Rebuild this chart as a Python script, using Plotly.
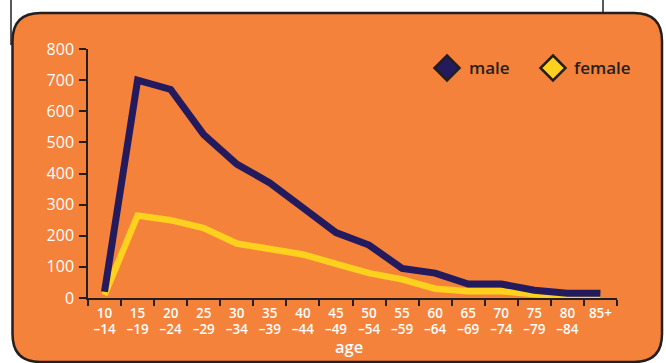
import plotly.graph_objects as go

# Age groups and counts per sex
age_groups = ["10-14", "15-19", "20-24", "25-29", "30-34", "35-39", "40-44", "45-49",
              "50-54", "55-59", "60-64", "65-69", "70-74", "75-79", "80-84", "85+"]
tick_top = ["10", "15", "20", "25", "30", "35", "40", "45",
            "50", "55", "60", "65", "70", "75", "80", "85+"]
tick_bottom = ["–14", "–19", "–24", "–29", "–34", "–39", "–44", "–49",
               "–54", "–59", "–64", "–69", "–74", "–79", "–84", ""]
male = [20, 700, 670, 525, 430, 370, 290, 210, 170, 95, 80, 45, 45, 25, 15, 15]
female = [10, 265, 250, 225, 175, 160, 140, 110, 80, 60, 30, 22, 22, 12, 5, 3]
y_ticks = [0, 100, 200, 300, 400, 500, 600, 700, 800]

ORANGE = "#F5823A"
NAVY = "#241A5E"
YELLOW = "#FFD01E"
DARK = "#231F20"
FONT = "Open Sans"

W, H = 666, 363
L, R, T, B = 88, 49, 49, 65
PW, PH = W - L - R, H - T - B


def px(x):
    return (x - L) / PW


def py(y):
    return (H - B - y) / PH


def rounded_rect(x0, y0, x1, y1, r):
    return (
        f"M {px(x0 + r)} {py(y0)} L {px(x1 - r)} {py(y0)} "
        f"Q {px(x1)} {py(y0)} {px(x1)} {py(y0 + r)} "
        f"L {px(x1)} {py(y1 - r)} Q {px(x1)} {py(y1)} {px(x1 - r)} {py(y1)} "
        f"L {px(x0 + r)} {py(y1)} Q {px(x0)} {py(y1)} {px(x0)} {py(y1 - r)} "
        f"L {px(x0)} {py(y0 + r)} Q {px(x0)} {py(y0)} {px(x0 + r)} {py(y0)} Z"
    )


def diamond(cx, cy, h):
    return (f"M {px(cx)} {py(cy - h)} L {px(cx + h)} {py(cy)} "
            f"L {px(cx)} {py(cy + h)} L {px(cx - h)} {py(cy)} Z")


# two-row tick labels: small base font keeps the rows tight, larger glyphs inside
def tick_label(top, bottom):
    span = "<span style='font-size:13.5px'>{}</span>"
    rows = [span.format(top)]
    if bottom:
        rows.append(span.format(bottom))
    return "<br>".join(rows)


age_tick_text = [tick_label(a, b) for a, b in zip(tick_top, tick_bottom)]

fig = go.Figure()
fig.add_trace(go.Scatter(x=age_groups, y=female, mode="lines", name="female",
                         line=dict(color=YELLOW, width=6.5), hoverinfo="x+y"))
fig.add_trace(go.Scatter(x=age_groups, y=male, mode="lines", name="male",
                         line=dict(color=NAVY, width=7), hoverinfo="x+y"))

shapes = [
    # frame lines of the box above
    dict(type="line", xref="paper", yref="paper", x0=px(11), x1=px(11), y0=py(0), y1=py(45),
         line=dict(color=DARK, width=1.5)),
    dict(type="line", xref="paper", yref="paper", x0=px(603), x1=px(603), y0=py(0), y1=py(14),
         line=dict(color=DARK, width=1.5)),
    # orange panel
    dict(type="path", xref="paper", yref="paper", layer="below",
         path=rounded_rect(12.5, 13, 662, 362, 28),
         fillcolor=ORANGE, line=dict(color=DARK, width=2.5)),
    # legend keys
    dict(type="path", xref="paper", yref="paper", path=diamond(447, 68, 12.5),
         fillcolor=NAVY, line=dict(color=DARK, width=2.5)),
    dict(type="path", xref="paper", yref="paper", path=diamond(553, 68, 12.5),
         fillcolor=YELLOW, line=dict(color=DARK, width=2.5)),
]

annotations = [
    dict(text="male", xref="paper", yref="paper", x=px(467), y=py(68), xanchor="left",
         yanchor="middle", showarrow=False, font=dict(family=FONT, size=17, color=DARK, weight=600)),
    dict(text="female", xref="paper", yref="paper", x=px(572), y=py(68), xanchor="left",
         yanchor="middle", showarrow=False, font=dict(family=FONT, size=17, color=DARK, weight=600)),
    dict(text="age", xref="paper", yref="paper", x=px(349), y=py(346), xanchor="center",
         yanchor="middle", showarrow=False, font=dict(family=FONT, size=16.5, color="white", weight=600)),
]

fig.update_layout(
    width=W, height=H,
    margin=dict(l=L, r=R, t=T, b=B, pad=0),
    paper_bgcolor="white",
    plot_bgcolor="rgba(0,0,0,0)",
    showlegend=False,
    shapes=shapes,
    annotations=annotations,
    font=dict(family=FONT, color="white"),
)
fig.update_xaxes(
    type="category", categoryorder="array", categoryarray=age_groups,
    tickmode="array", tickvals=age_groups, ticktext=age_tick_text, tickangle=0,
    tickson="boundaries", ticks="outside", ticklen=6, tickwidth=1.5, tickcolor=DARK,
    showline=True, linecolor=DARK, linewidth=1.5, showgrid=False, zeroline=False,
    tickfont=dict(family=FONT, size=12, color="white", weight=600), ticklabelstandoff=4,
    range=[-0.5, len(age_groups) - 0.5], fixedrange=True,
)
fig.update_yaxes(
    range=[0, 800], tickmode="array", tickvals=y_ticks,
    ticks="outside", ticklen=7, tickwidth=1.5, tickcolor=DARK,
    showline=True, linecolor=DARK, linewidth=1.5, showgrid=False, zeroline=False,
    tickfont=dict(family=FONT, size=16, color="white", weight=500), ticklabelstandoff=2,
    fixedrange=True,
)

fig.write_html("out.html", config={"displayModeBar": False})
